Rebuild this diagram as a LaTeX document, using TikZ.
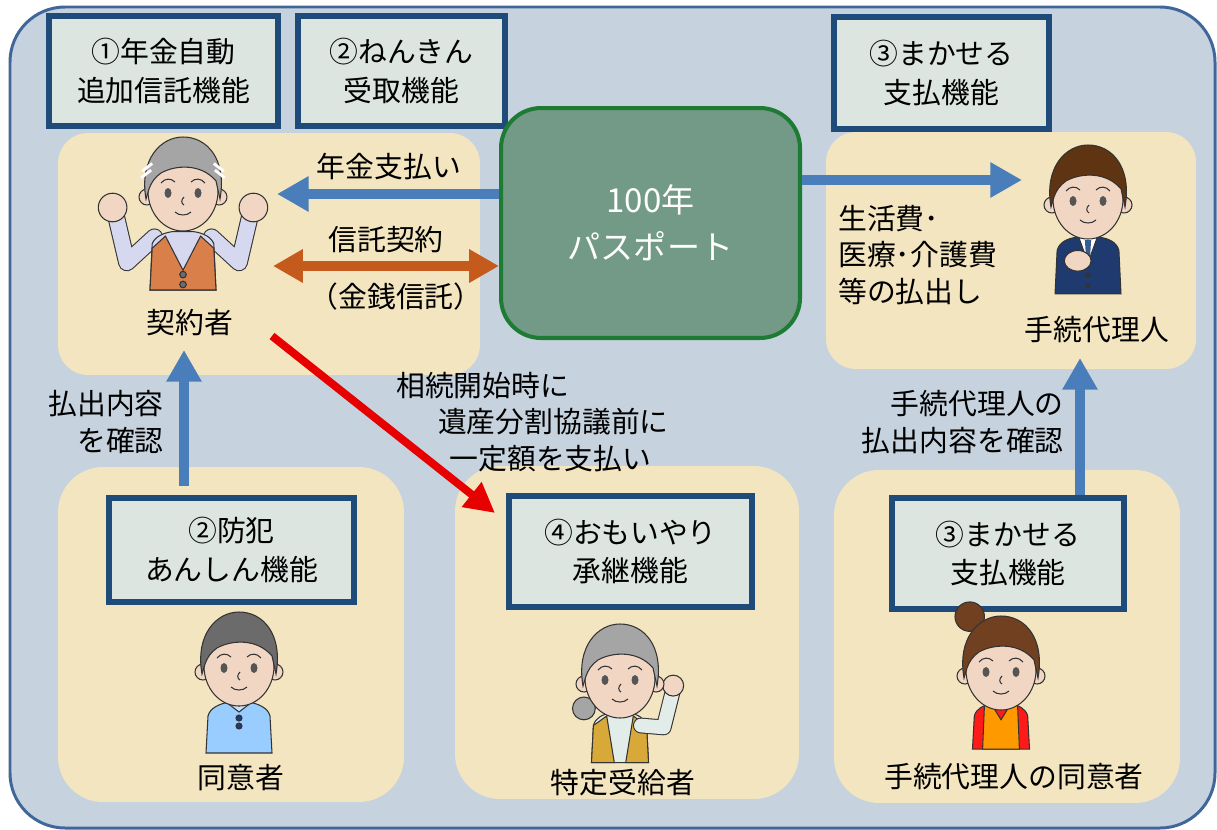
\documentclass[tikz,border=0pt]{standalone}
\usepackage{fontspec}
\setmainfont{Noto Sans CJK JP}
\usepackage{tikz}
\usetikzlibrary{arrows.meta}
\definecolor{fond}{HTML}{C6D3DF}
\definecolor{cadre}{HTML}{41679A}
\definecolor{sable}{HTML}{F3E5BF}
\definecolor{bleufonce}{HTML}{1F4B7A}
\definecolor{grisvert}{HTML}{DCE5E0}
\definecolor{vertfonce}{HTML}{1E7B34}
\definecolor{vertgris}{HTML}{729A86}
\definecolor{bleu}{HTML}{4A7EBB}
\definecolor{brique}{HTML}{C55A1D}
\definecolor{rouge}{HTML}{E60000}
\definecolor{peau}{HTML}{F2D6C4}
\definecolor{trait}{HTML}{333333}
\definecolor{oeil}{HTML}{555555}
\definecolor{gris}{HTML}{A5A5A5}
\definecolor{grisfonce}{HTML}{6B6B6B}
\definecolor{lavande}{HTML}{D5D8EE}
\definecolor{gilet}{HTML}{D9804A}
\definecolor{marine}{HTML}{1F3A6E}
\definecolor{chatain}{HTML}{5E3413}
\definecolor{brun}{HTML}{704020}
\definecolor{ciel}{HTML}{99CCFF}
\definecolor{moutarde}{HTML}{D8A838}
\definecolor{chemise}{HTML}{E2ECE8}
\definecolor{rougevif}{HTML}{FF1A1A}
\definecolor{tablier}{HTML}{FF9900}
\tikzset{
  zone/.style={fill=sable,rounded corners=0.6cm,inner sep=0pt},
  boite/.style={draw=bleufonce,line width=3.4pt,fill=grisvert,align=center,
                font=\fontsize{16.4}{22}\selectfont,inner sep=0pt},
  etiquette/.style={inner sep=0pt,font=\fontsize{16.4}{21}\selectfont},
  fleche/.style={-{Triangle[length=18pt,width=19pt]},line width=6.2pt,draw=bleu},
  contour/.style={draw=trait,line width=0.6pt},
  pics/tete/.style={code={
    \filldraw[fill=peau,contour] (-36,6) circle[radius=8] (36,6) circle[radius=8];
    \filldraw[fill=peau,contour] (0,0) ellipse[x radius=35,y radius=40];
    \filldraw[fill=#1,contour] (-37,8) .. controls (-44,-32) and (-22,-54) .. (0,-54)
      .. controls (24,-54) and (44,-32) .. (37,8) -- (33,-10)
      .. controls (18,-28) and (-8,-26) .. (-22,-18)
      .. controls (-28,-14) and (-32,-8) .. (-34,-2) -- cycle;
    \fill[oeil] (-15,2) ellipse[x radius=3.5,y radius=5] (15,2) ellipse[x radius=3.5,y radius=5];
    \draw[contour] (-22,-8) .. controls (-18,-13) and (-12,-13) .. (-8,-9)
      (22,-8) .. controls (18,-13) and (12,-13) .. (8,-9)
      (1,6) .. controls (-2,9) and (-2,12) .. (1,14)
      (-8,21) .. controls (-4,25) and (4,25) .. (8,21);
  }},
}
\begin{document}
\begin{tikzpicture}[x=0.02cm,y=-0.02cm]
  \useasboundingbox (0,0) rectangle (1217,829);
  \filldraw[fill=fond,draw=cadre,line width=1.7pt,rounded corners=1.1cm] (10,7) rectangle (1215,828);

  \node[zone,minimum width=8.44cm,minimum height=4.84cm] (zoneA) at (269,254) {};
  \node[zone,minimum width=7.40cm,minimum height=4.74cm] (zoneB) at (1011,250.5) {};
  \node[zone,rounded corners=0.9cm,minimum width=6.92cm,minimum height=6.70cm] (zoneC) at (231,634.5) {};
  \node[zone,rounded corners=0.9cm,minimum width=6.88cm,minimum height=6.66cm] (zoneD) at (627,632.5) {};
  \node[zone,rounded corners=0.9cm,minimum width=6.92cm,minimum height=6.66cm] (zoneE) at (1007,636.5) {};

  \node[boite,minimum width=4.58cm,minimum height=2.20cm] (ajout) at (163.5,71) {①年金自動\\追加信託機能};
  \node[boite,minimum width=4.14cm,minimum height=2.20cm] (reception) at (401.5,71) {②ねんきん\\受取機能};
  \node[boite,minimum width=4.30cm,minimum height=2.24cm] (makase) at (941.5,73) {③まかせる\\支払機能};
  \node[boite,minimum width=4.90cm,minimum height=2.08cm] (bouan) at (231.5,550) {②防犯\\あんしん機能};
  \node[boite,minimum width=4.86cm,minimum height=2.22cm] (omoiyari) at (630.5,551.5) {④おもいやり\\承継機能};
  \node[boite,minimum width=4.64cm,minimum height=2.22cm] (makasebas) at (1008,553.5) {③まかせる\\支払機能};

  \node[draw=vertfonce,line width=2.3pt,fill=vertgris,rounded corners=0.8cm,
        minimum width=5.98cm,minimum height=4.60cm,align=center,text=white,
        font=\fontsize{18.8}{27}\selectfont] (passeport) at (650.5,223) {100年\\パスポート};

  \begin{scope}[shift={(183,191)},scale=1.1]
    \draw[trait,line width=10pt,line join=round,line cap=round] (-26,42) -- (-51,65) -- (-62,18) (26,42) -- (51,65) -- (62,18);
    \draw[lavande,line width=8.8pt,line join=round,line cap=round] (-26,42) -- (-51,65) -- (-62,18) (26,42) -- (51,65) -- (62,18);
    \filldraw[fill=lavande,contour] (-30,90) -- (-28,48) .. controls (-26,42) and (-18,38) .. (-10,37) -- (10,37)
      .. controls (18,38) and (26,42) .. (28,48) -- (30,90) -- cycle;
    \filldraw[fill=gilet,contour] (-30,90) -- (-28,52) -- (-16,41) -- (0,72) -- (16,41) -- (28,52) -- (30,90) -- cycle;
    \filldraw[fill=grisfonce,contour] (0,76) circle[radius=3] (0,85) circle[radius=3];
    \filldraw[fill=peau,contour] (-64,15) circle[radius=13] (64,15) circle[radius=13];
    \pic {tete=gris};
    \draw[white,line width=1.6pt] (-37,-18) -- (-28,-25) (-38,-12) -- (-29,-19)
      (37,-18) -- (28,-25) (38,-12) -- (29,-19);
  \end{scope}

  \begin{scope}[shift={(1088,199)},scale=1.03]
    \filldraw[fill=marine,contour] (-32,92) -- (-30,50) .. controls (-28,42) and (-20,38) .. (-10,37) -- (10,37)
      .. controls (20,38) and (28,42) .. (30,50) -- (32,92) -- cycle;
    \filldraw[fill=white,contour] (-9,37) -- (0,62) -- (9,37) -- cycle;
    \fill[bleu!50!marine] (-3,40) -- (3,40) -- (2,56) -- (0,59) -- (-2,56) -- cycle;
    \filldraw[fill=peau,contour] (-10,60) ellipse[x radius=13,y radius=10];
    \fill[trait] (0,74) circle[radius=2.5] (0,84) circle[radius=2.5];
    \pic {tete=chatain};
  \end{scope}

  \begin{scope}[shift={(239,666)}]
    \filldraw[fill=ciel,contour] (-33,87) -- (-31,50) .. controls (-29,42) and (-20,38) .. (-10,36) -- (10,36)
      .. controls (20,38) and (29,42) .. (31,50) -- (33,87) -- cycle;
    \filldraw[fill=ciel!55!white,contour] (-13,36) -- (0,46) -- (13,36) -- (7,34) -- (0,40) -- (-7,34) -- cycle;
    \filldraw[fill=marine,contour] (0,52) circle[radius=3] (0,60) circle[radius=3];
    \pic {tete=grisfonce};
  \end{scope}

  \begin{scope}[shift={(620,678)},scale=0.95]
    \filldraw[fill=gris,contour] (-38,32) circle[radius=12];
    \filldraw[fill=chemise,contour] (-30,89) -- (-28,50) .. controls (-26,42) and (-18,38) .. (-10,37) -- (10,37)
      .. controls (18,38) and (26,42) .. (28,50) -- (30,89) -- cycle;
    \filldraw[fill=moutarde,contour] (-30,89) -- (-28,50) -- (-14,40) -- (-6,89) -- cycle;
    \filldraw[fill=moutarde,contour] (30,89) -- (28,50) -- (14,40) -- (6,89) -- cycle;
    \draw[trait,line width=9pt,line join=round,line cap=round] (22,50) -- (46,52) -- (56,12);
    \draw[chemise,line width=7.8pt,line join=round,line cap=round] (22,50) -- (46,52) -- (56,12);
    \filldraw[fill=peau,contour] (56,8) circle[radius=11];
    \pic {tete=gris};
  \end{scope}

  \begin{scope}[shift={(1001,670)},scale=0.92]
    \filldraw[fill=brun,contour] (-34,-58) circle[radius=16];
    \filldraw[fill=rougevif,contour] (-31,86) -- (-29,50) .. controls (-27,42) and (-19,38) .. (-10,37) -- (10,37)
      .. controls (19,38) and (27,42) .. (29,50) -- (31,86) -- cycle;
    \filldraw[fill=tablier,contour] (-20,86) -- (-18,38) -- (-10,38) -- (0,54) -- (10,38) -- (18,38) -- (20,86) -- cycle;
    \pic {tete=brun};
  \end{scope}

  \coordinate (versA) at (277,194);
  \coordinate (deA) at (273,266);
  \coordinate (versB) at (1022,180);
  \coordinate (deC) at (272,336);
  \coordinate (versD) at (495,513);
  \coordinate (versE) at (184,350);
  \coordinate (versF) at (1080,358);

  \draw[fleche] (passeport.west |- versA) -- (versA);
  \draw[{Triangle[length=17pt,width=18pt]}-{Triangle[length=17pt,width=18pt]},line width=6.2pt,draw=brique] (deA) -- (passeport.west |- deA);
  \draw[fleche] (passeport.east |- versB) -- (versB);
  \draw[-{Triangle[length=17pt,width=17pt]},line width=4.5pt,draw=rouge] (deC) -- (versD);
  \draw[fleche,shorten <=5pt] (bouan.north -| versE) -- (versE);
  \draw[fleche] (makasebas.north -| versF) -- (versF);

  \node[etiquette] (paiement) at (389,167) {年金支払い};
  \node[etiquette] (contrat) at (386,240) {信託契約};
  \node[etiquette] (especes) at (396,297) {（金銭信託）};
  \node[etiquette] (titulaire) at (190,323) {契約者};
  \node[etiquette,anchor=west,align=left] (frais) at (838,255) {生活費･\\医療･介護費\\等の払出し};
  \node[etiquette] (mandataire) at (1097,330) {手続代理人};
  \node[etiquette,anchor=east,align=right] (controleA) at (164,422) {払出内容\\を確認};
  \node[etiquette,anchor=east,align=right] (controleB) at (1064,422) {手続代理人の\\払出内容を確認};
  \node[etiquette,anchor=west,align=left] (succession) at (396,422) {相続開始時に\\\hspace*{1.45em}遺産分割協議前に\\\hspace*{1.85em}一定額を支払い};
  \node[etiquette] (accordA) at (241,778) {同意者};
  \node[etiquette] (beneficiaire) at (623,783) {特定受給者};
  \node[etiquette] (accordB) at (1014,777) {手続代理人の同意者};
\end{tikzpicture}
\end{document}
